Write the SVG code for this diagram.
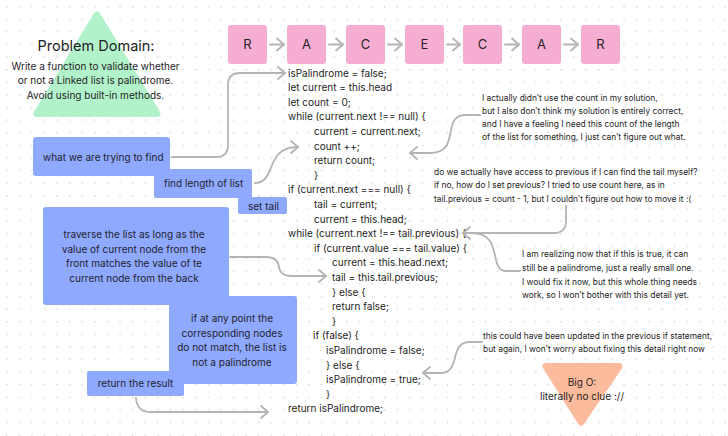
<svg xmlns="http://www.w3.org/2000/svg" width="728" height="436" viewBox="0 0 728 436">
<defs>
<pattern id="dots" x="6" y="6" width="12.6" height="12.6" patternUnits="userSpaceOnUse">
<circle cx="0.7" cy="0.7" r="0.7" fill="#c8c8c8"/>
</pattern>
<marker id="arr" markerUnits="userSpaceOnUse" markerWidth="12" markerHeight="16" viewBox="-9 -8 10 16" refX="0" refY="0" orient="auto">
<path d="M-7,-6 L0,0 L-7,6" fill="none" stroke="#b4b4b4" stroke-width="1.8" stroke-linecap="round" stroke-linejoin="round"/>
</marker>
<style>
text{font-family:Inter,"Liberation Sans",sans-serif;fill:#1e1e1e}
.code{font-size:10px}
.note{font-size:8.4px;fill:#2b2b2b}
.box{fill:#8fa9fe}
.bt{font-size:10px;fill:#1e1e2e}
.mid{text-anchor:middle}
.letter{fill:#f5aed2}
.lt{font-size:13px;text-anchor:middle;fill:#2a1f25}
.conn{fill:none;stroke:#b4b4b4;stroke-width:1.8;stroke-linecap:round;stroke-linejoin:round}
</style>
</defs>
<rect width="728" height="436" fill="#ffffff"/>
<rect width="728" height="436" fill="url(#dots)"/>

<g id="problem-domain">
<path d="M97,15 L37,113.5 L157,113.5 Z" fill="#b2f2cb" stroke="#b2f2cb" stroke-width="7" stroke-linejoin="round"/>
<text x="96" y="50.5" class="mid" style="font-size:14.5px">Problem Domain:</text>
<text x="95.5" y="69.6" class="mid" style="font-size:10px">Write a function to validate whether</text>
<text x="95.5" y="84.2" class="mid" style="font-size:10px">or not a Linked list is palindrome.</text>
<text x="95.5" y="98.8" class="mid" style="font-size:10px">Avoid using built-in methods.</text>
</g>

<g id="list">
<g id="node-r1"><rect class="letter" x="228" y="25" width="39" height="39" rx="3"/><text class="lt" x="247.5" y="49">R</text></g>
<g id="node-a1"><rect class="letter" x="287" y="25" width="39" height="39" rx="3"/><text class="lt" x="306.5" y="49">A</text></g>
<g id="node-c1"><rect class="letter" x="346" y="25" width="39" height="39" rx="3"/><text class="lt" x="365.5" y="49">C</text></g>
<g id="node-e"><rect class="letter" x="405" y="25" width="39" height="39" rx="3"/><text class="lt" x="424.5" y="49">E</text></g>
<g id="node-c2"><rect class="letter" x="463" y="25" width="39" height="39" rx="3"/><text class="lt" x="482.5" y="49">C</text></g>
<g id="node-a2"><rect class="letter" x="522" y="25" width="39" height="39" rx="3"/><text class="lt" x="541.5" y="49">A</text></g>
<g id="node-r2"><rect class="letter" x="581" y="25" width="39" height="39" rx="3"/><text class="lt" x="600.5" y="49">R</text></g>
</g>

<g id="code" class="code">
<text x="288" y="76.6">isPalindrome = false;</text>
<text x="288" y="91.2">let current = this.head</text>
<text x="288" y="105.8">let count = 0;</text>
<text x="288" y="120.4">while (current.next !== null) {</text>
<text x="314" y="135">current = current.next;</text>
<text x="314" y="149.6">count ++;</text>
<text x="314" y="164.2">return count;</text>
<text x="314" y="178.8">}</text>
<text x="288" y="193.4">if (current.next === null) {</text>
<text x="314" y="208">tail = current;</text>
<text x="314" y="222.6">current = this.head;</text>
<text x="288" y="237.2">while (current.next !== tail.previous) {</text>
<text x="314" y="251.8">if (current.value === tail.value) {</text>
<text x="332" y="266.4">current = this.head.next;</text>
<text x="332" y="281">tail = this.tail.previous;</text>
<text x="332" y="295.6">}  else {</text>
<text x="332" y="310.2">return false;</text>
<text x="332" y="324.8">}</text>
<text x="313" y="339.4">if (false) {</text>
<text x="326" y="354">isPalindrome = false;</text>
<text x="326" y="368.6">} else {</text>
<text x="326" y="383.2">isPalindrome = true;</text>
<text x="326" y="397.8">}</text>
<text x="288" y="412.4">return isPalindrome;</text>
</g>

<g id="explanations">
<g id="box-find"><rect class="box" x="33" y="137" width="137" height="39" rx="3"/><text class="bt" x="43" y="160.5">what we are trying to find</text></g>
<g id="box-length"><rect class="box" x="154" y="169" width="98" height="29" rx="2"/><text class="bt" x="164" y="186.5">find length of list</text></g>
<g id="box-tail"><rect class="box" x="238" y="197" width="49" height="17" rx="2"/><text class="bt" x="248" y="209.5">set tail</text></g>
<g id="box-traverse"><rect class="box" x="43" y="207" width="186" height="98" rx="3"/>
<text class="bt mid" x="134" y="237.8">traverse the list as long as the</text>
<text class="bt mid" x="134" y="252.8">value of current node from the</text>
<text class="bt mid" x="134" y="267.2">front matches the value of te</text>
<text class="bt mid" x="134" y="282.2">current node from the back</text></g>
<g id="box-mismatch"><rect class="box" x="169" y="296" width="128" height="88" rx="3"/>
<text class="bt mid" x="232" y="321.8">if at any point the</text>
<text class="bt mid" x="232" y="336.8">corresponding nodes</text>
<text class="bt mid" x="232" y="351.2">do not match, the list is</text>
<text class="bt mid" x="232" y="365.8">not a palindrome</text></g>
<g id="box-return"><rect class="box" x="87" y="371" width="97" height="25" rx="2"/><text class="bt mid" x="135.5" y="387.2">return the result</text></g>
</g>

<g id="notes" class="note">
<g id="note-count">
<text x="482" y="100.5">I actually didn’t use the count in my solution,</text>
<text x="482" y="113.8">but I also don’t think my solution is entirely correct,</text>
<text x="482" y="127.1">and I have a feeling I need this count of the length</text>
<text x="482" y="140.4">of the list for something, I just can’t figure out what.</text>
</g>
<g id="note-previous">
<text x="434" y="174.7">do we actually have access to previous if I can find the tail myself?</text>
<text x="434" y="188">if no, how do I set previous? I tried to use count here, as in</text>
<text x="434" y="201.5">tail.previous = count - 1, but I couldn’t figure out how to move it :(</text>
</g>
<g id="note-small">
<text x="522" y="257">I am realizing now that if this is true, it can</text>
<text x="522" y="270.8">still be a palindrome, just a really small one.</text>
<text x="522" y="284.6">I would fix it now, but this whole thing needs</text>
<text x="522" y="298.2">work, so I won’t bother with this detail yet.</text>
</g>
<g id="note-update">
<text x="483" y="339">this could have been updated in the previous if statement,</text>
<text x="483" y="351.8">but again, I won’t worry about fixing this detail right now</text>
</g>
</g>

<g id="big-o">
<path d="M546,366.5 L619,366.5 L581,422 Z" fill="#fbbb9c" stroke="#fbbb9c" stroke-width="7" stroke-linejoin="round"/>
<text x="582" y="385.5" class="mid" style="font-size:10px">Big O:</text>
<text x="582" y="399.8" class="mid" style="font-size:10px">literally no clue ://</text>
</g>

<g id="connectors">
<line class="conn" x1="270" y1="44.5" x2="284" y2="44.5" marker-end="url(#arr)"/>
<line class="conn" x1="329" y1="44.5" x2="343" y2="44.5" marker-end="url(#arr)"/>
<line class="conn" x1="388" y1="44.5" x2="402" y2="44.5" marker-end="url(#arr)"/>
<line class="conn" x1="447" y1="44.5" x2="460" y2="44.5" marker-end="url(#arr)"/>
<line class="conn" x1="505" y1="44.5" x2="519" y2="44.5" marker-end="url(#arr)"/>
<line class="conn" x1="564" y1="44.5" x2="578" y2="44.5" marker-end="url(#arr)"/>
<path class="conn" d="M172,157 H216 Q228,157 228,145 V85 Q228,73 240,73 H285" marker-end="url(#arr)"/>
<path class="conn" d="M255,183 C277,183 264,147 298,147" marker-end="url(#arr)"/>
<path class="conn" d="M480,115 H466 C440,115 462,153 430,153 H410" marker-end="url(#arr)"/>
<path class="conn" d="M566,206 V221 Q566,233 554,233 H463" marker-end="url(#arr)"/>
<path class="conn" d="M520,271 H506 C488,271 504,233 472,233"/>
<path class="conn" d="M230,257 H266 Q278,257 279,267 Q280,276 292,276 H326" marker-end="url(#arr)"/>
<path class="conn" d="M136,398 Q137,412 150,412 H268" marker-end="url(#arr)"/>
<path class="conn" d="M482,342 H470 C448,342 462,373 440,373 H423" marker-end="url(#arr)"/>
</g>
</svg>
